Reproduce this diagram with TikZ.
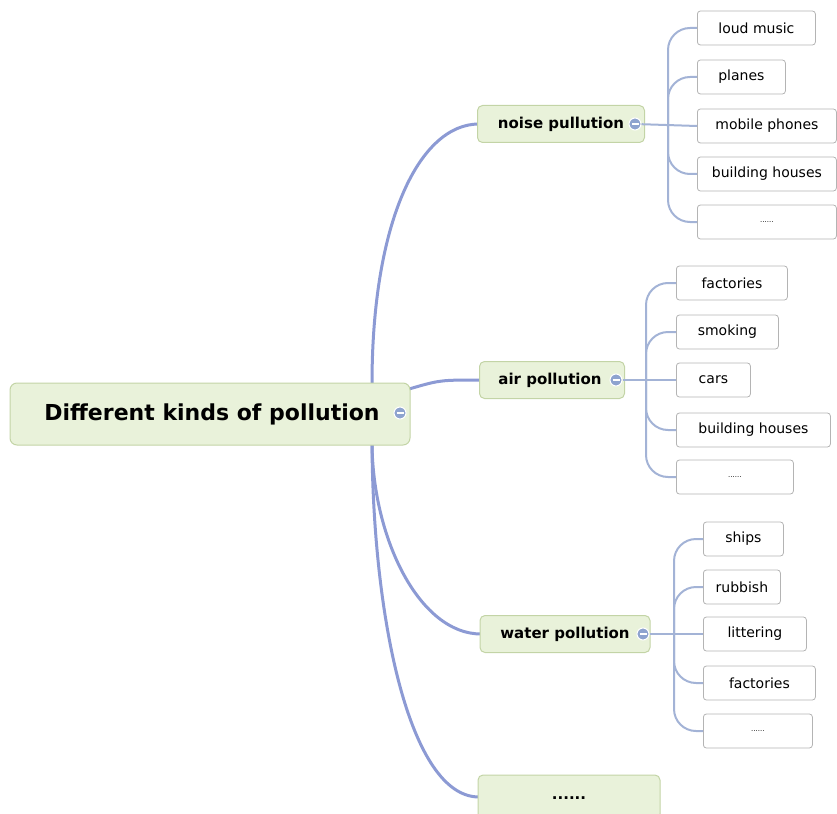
\documentclass[tikz,border=0pt]{standalone}
\usepackage{fontspec}
\setmainfont{DejaVu Sans}
\definecolor{branchline}{HTML}{8C9AD4}
\definecolor{leafline}{HTML}{A3B3D6}
\definecolor{topicfill}{HTML}{E9F2DA}
\definecolor{topicdraw}{HTML}{C3D4A6}
\definecolor{leafdraw}{HTML}{B4B4B4}
\definecolor{minusfill}{HTML}{8EA3CF}
\tikzset{
  root/.style={draw=topicdraw, fill=topicfill, line width=1pt, rounded corners=7pt,
    minimum width=400pt, minimum height=62pt, font=\fontsize{22}{26}\selectfont\bfseries},
  topic/.style={draw=topicdraw, fill=topicfill, line width=1pt, rounded corners=5pt,
    minimum height=37pt, font=\fontsize{15}{18}\selectfont\bfseries},
  leaf/.style={draw=leafdraw, fill=white, line width=0.8pt, rounded corners=3pt,
    minimum height=34pt, anchor=west, font=\fontsize{14}{17}\selectfont},
  minus/.style={circle, fill=minusfill, draw=white, line width=1pt, minimum size=12pt, inner sep=0pt,
    path picture={\draw[white, line width=1.6pt] ([xshift=-3.5pt]path picture bounding box.center)
      -- ([xshift=3.5pt]path picture bounding box.center);}},
  branch/.style={draw=branchline, line width=3pt},
  twig/.style={draw=leafline, line width=2pt}
}
\begin{document}
\begin{tikzpicture}[x=1pt, y=-1pt]
  \useasboundingbox (0,0) rectangle (837,813);
  \clip (0,0) rectangle (837,813);

  % Main branches
  \coordinate (roottop) at (372,384);
  \coordinate (rootbot) at (372,444);
  \coordinate (rootright) at (409,389);
  \draw[branch] (roottop) .. controls (372,220) and (420,124) .. (479,124);
  \draw[branch] (rootright) .. controls (440,380) .. (481,380);
  \draw[branch] (rootbot) .. controls (373,540) and (420,634) .. (481,634);
  \draw[branch] (rootbot) .. controls (373,620) and (410,797) .. (479,797);

  % Root and topics
  \node[root] (root) at (210,414) {\hspace*{4pt}Different kinds of pollution};
  \node[minus] (rootm) at (400,413) {};
  \node[topic, minimum width=167pt] (noise) at (561,124) {noise pullution};
  \node[topic, minimum width=145pt] (air) at (552,380) {\hspace*{-4pt}air pollution};
  \node[topic, minimum width=170pt] (water) at (565,634) {water pollution};
  \node[topic, minimum width=182pt, minimum height=44pt] (more) at (569,797) {\raisebox{-4pt}{......}};

  % Leaves of each topic: name/x of hub/y of topic/x of minus
  \foreach \t/\hx/\ty/\mx in {noise/668/124/635, air/646/380/616, water/674/634/643} {
    \node[minus] (\t m) at (\mx,\ty) {};
    \coordinate (\t h) at (\hx,\ty);
  }
  \foreach \txt/\w/\y [count=\n] in {loud music/118/28, planes/88/77, mobile phones/139/126,
      building houses/139/174, {\scriptsize ......}/139/222} {
    \node[leaf, minimum width=\w pt] (noise\n) at (697,\y) {\txt};
  }
  \foreach \txt/\w/\y [count=\n] in {factories/111/283, smoking/102/332, cars/74/380,
      building houses/154/430, {\scriptsize ......}/117/477} {
    \node[leaf, minimum width=\w pt] (air\n) at (676,\y) {\txt};
  }
  \foreach \txt/\w/\y [count=\n] in {ships/80/539, rubbish/77/587, littering/103/634,
      factories/112/683, {\scriptsize ......}/109/731} {
    \node[leaf, minimum width=\w pt] (water\n) at (703,\y) {\txt};
  }

  % Twigs from hub to leaves
  \foreach \t in {noise, air, water} {
    \draw[twig] (\t m) -- (\t 3.west);
    \foreach \n in {1,2,4,5} {
      \draw[twig, rounded corners=22pt] (\t h) |- (\t\n.west);
    }
  }
\end{tikzpicture}
\end{document}
